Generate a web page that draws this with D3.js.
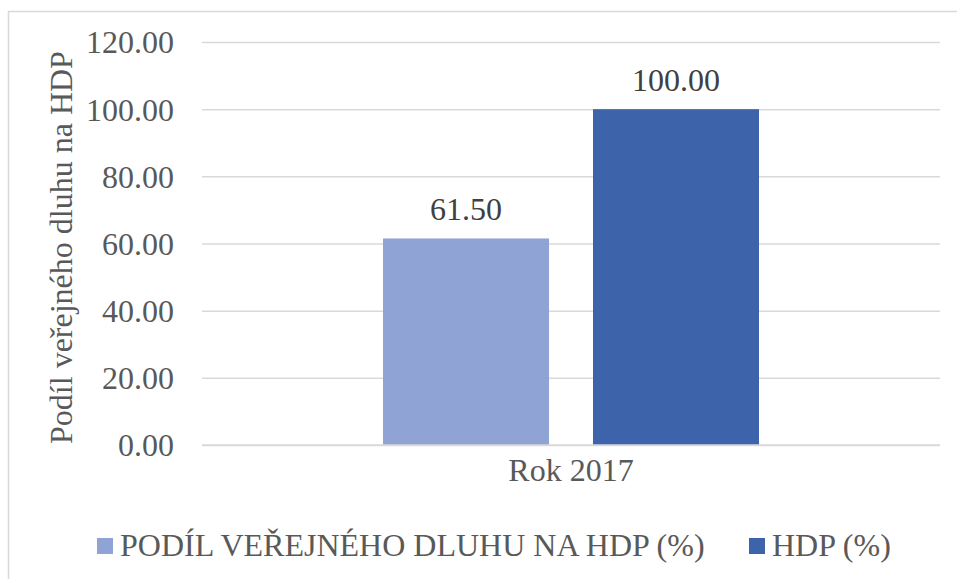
<!DOCTYPE html>
<html>
<head>
<meta charset="utf-8">
<script src="https://cdn.jsdelivr.net/npm/d3@7"></script>
<style>
  body { margin: 0; background: #fff; }
</style>
</head>
<body>
<svg id="container"></svg>
<script>
const categories = ["Rok 2017"]
const seriesNames = ["PODÍL VEŘEJNÉHO DLUHU NA HDP (%)", "HDP (%)"]
const seriesValues = [[61.5], [100.0]]
const seriesColors = ["#8fa4d4", "#3d64aa"]
const yTicks = [0, 20, 40, 60, 80, 100, 120]
const yTitle = "Podíl veřejného dluhu na HDP"

const FONT = "Liberation Serif"
const FS = 32

const setup = () => {
	const width = 957, height = 579
	const svg = d3.select("#container")
	  .attr("width", width)
	  .attr("height", height)
	  .attr("font-family", FONT)

	// outer chart frame (cut off at right / bottom like the original)
	svg.append("rect")
	   .attr("x", 8.5).attr("y", 11.5)
	   .attr("width", 1000).attr("height", 1000)
	   .attr("fill", "none")
	   .attr("stroke", "#d9d9d9")
	   .attr("stroke-width", 1.5)

	const plot = { left: 202, right: 940, top: 42, bottom: 445 }

	const y = d3.scaleLinear()
	  .domain([0, 120])
	  .range([plot.bottom, plot.top])

	const x0 = d3.scaleBand()
	  .domain(categories)
	  .range([plot.left, plot.right])
	  .paddingInner(0)
	  .paddingOuter(0)

	// two bars of width 166 with a 44 gap inside a 738 wide band
	const x1 = d3.scaleBand()
	  .domain(d3.range(seriesNames.length))
	  .range([181, 557])
	  .paddingInner(44 / 210)
	  .paddingOuter(0)

	// gridlines + tick labels
	const yAxis = d3.axisLeft(y)
	  .tickValues(yTicks)
	  .tickSize(-(plot.right - plot.left))
	  .tickPadding(28)
	  .tickFormat(d3.format(".2f"))

	const ga = svg.append("g")
	  .attr("transform", `translate(${plot.left},0)`)
	  .call(yAxis)
	  .attr("font-family", FONT)
	  .attr("font-size", FS)
	ga.select(".domain").remove()
	ga.selectAll(".tick line")
	  .attr("stroke", "#d9d9d9")
	  .attr("stroke-width", 1.5)
	ga.selectAll(".tick text")
	  .attr("fill", "#595959")
	  .attr("font-family", FONT)
	  .attr("font-size", FS)
	  .attr("dy", "0.34em")

	// bars
	const groups = svg.selectAll(".cat")
	  .data(categories)
	  .join("g")
	  .attr("class", "cat")
	  .attr("transform", d => `translate(${x0(d)},0)`)

	seriesNames.forEach((name, si) => {
		groups.append("rect")
		  .attr("x", (d, ci) => x1(si))
		  .attr("y", (d, ci) => y(seriesValues[si][ci]))
		  .attr("width", x1.bandwidth())
		  .attr("height", (d, ci) => y(0) - y(seriesValues[si][ci]))
		  .attr("fill", seriesColors[si])

		groups.append("text")
		  .attr("x", x1(si) + x1.bandwidth() / 2)
		  .attr("y", (d, ci) => y(seriesValues[si][ci]) - 18)
		  .attr("text-anchor", "middle")
		  .attr("fill", "#404040")
		  .attr("font-family", FONT)
		  .attr("font-size", FS)
		  .text((d, ci) => d3.format(".2f")(seriesValues[si][ci]))
	})

	// baseline redrawn over bars
	svg.append("line")
	   .attr("x1", plot.left).attr("x2", plot.right)
	   .attr("y1", y(0)).attr("y2", y(0))
	   .attr("stroke", "#d9d9d9")
	   .attr("stroke-width", 1.5)

	// category labels
	svg.selectAll(".catlabel")
	  .data(categories)
	  .join("text")
	  .attr("x", d => x0(d) + x0.bandwidth() / 2)
	  .attr("y", 481)
	  .attr("text-anchor", "middle")
	  .attr("fill", "#595959")
	  .attr("font-family", FONT)
	  .attr("font-size", FS)
	  .text(d => d)

	// y axis title
	svg.append("text")
	   .attr("transform", `translate(72,${(plot.top + plot.bottom) / 2 + 4}) rotate(-90)`)
	   .attr("text-anchor", "middle")
	   .attr("fill", "#595959")
	   .attr("font-family", FONT)
	   .attr("font-size", FS)
	   .text(yTitle)

	// legend
	const legendX = [97, 749]
	const leg = svg.selectAll(".leg")
	  .data(seriesNames)
	  .join("g")
	  .attr("class", "leg")
	  .attr("transform", (d, i) => `translate(${legendX[i]},538)`)
	leg.append("rect")
	   .attr("width", 16).attr("height", 16)
	   .attr("fill", (d, i) => seriesColors[i])
	leg.append("text")
	   .attr("x", 23)
	   .attr("y", 18)
	   .attr("fill", "#595959")
	   .attr("font-family", FONT)
	   .attr("font-size", FS)
	   .text(d => d)
}

document.addEventListener("DOMContentLoaded", setup)
</script>
</body>
</html>
